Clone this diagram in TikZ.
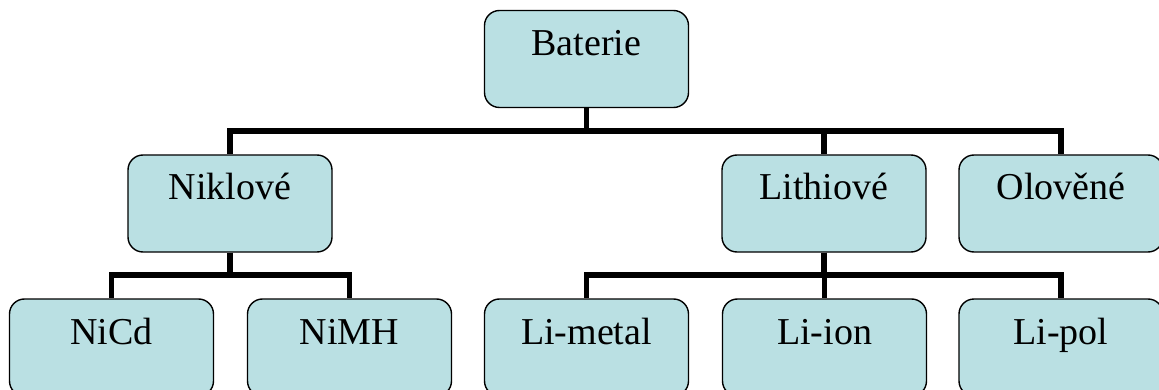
\documentclass[tikz,border=0pt]{standalone}
\usepackage{fontspec}
\setmainfont{Liberation Serif}
\definecolor{boxfill}{RGB}{186,224,227}
\tikzset{
  catbox/.style={draw=black, line width=1.4pt, fill=boxfill, rounded corners=15pt,
    minimum width=204pt, minimum height=97pt, inner xsep=0pt, inner ysep=0pt,
    text height=45pt, text depth=52pt, font=\fontsize{38}{42}\selectfont},
  conn/.style={draw=black, line width=5.5pt, line join=miter}
}
\begin{document}
\begin{tikzpicture}[x=1pt,y=-1pt]
\useasboundingbox (0,0) rectangle (1159,390);
\clip (0,0) rectangle (1159,390);
% bus levels
\coordinate (busA) at (0,131);
\coordinate (busB) at (0,275);
% root
\node[catbox] (bat) at (586.5,59) {Baterie};
% groups
\node[catbox] (nik) at (230,203.5) {Niklové};
\node[catbox] (lit) at (824,203.5) {Lithiové};
\node[catbox] (olo) at (1061,203.5) {Olověné};
% leaves
\node[catbox] (nicd) at (111.5,347.5) {NiCd};
\node[catbox] (nimh) at (349.5,347.5) {NiMH};
\node[catbox] (lme) at (586.5,347.5) {Li-metal};
\node[catbox] (lio) at (824.5,347.5) {Li-ion};
\node[catbox] (lpo) at (1061,347.5) {Li-pol};
% connectors
\foreach \c in {nik,lit,olo}
  \draw[conn] (bat.south) -- (bat.south |- busA) -| (\c.north);
\foreach \c in {nicd,nimh}
  \draw[conn] (nik.south) -- (nik.south |- busB) -| (\c.north);
\foreach \c in {lme,lio,lpo}
  \draw[conn] (lit.south) -- (lit.south |- busB) -| (\c.north);
\end{tikzpicture}
\end{document}
